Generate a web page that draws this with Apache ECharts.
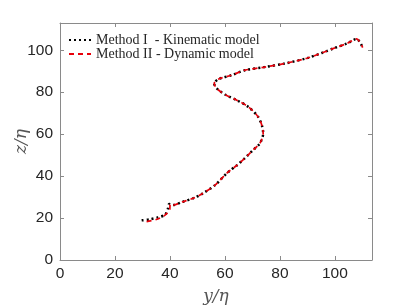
<!DOCTYPE html>
<html>
<head>
<meta charset="utf-8">
<script src="https://cdn.jsdelivr.net/npm/echarts@6/dist/echarts.min.js"></script>
<style>html,body{margin:0;padding:0;background:#fff}#c{width:411px;height:308px}</style>
</head>
<body>
<div id="c"></div>
<script>
const seriesNames = ['Method I  - Kinematic model', 'Method II - Dynamic model'];
const xTicks = [0, 20, 40, 60, 80, 100];
const yTicks = [0, 20, 40, 60, 80, 100];
// Method I (kinematic) trajectory: [y/eta, z/eta]
const kinematic = [
  [29.7,18.9],[32.7,19.4],[35.6,20.3],[38.2,21.6],[39.3,24.6],[39.7,26.7],[41.1,26.2],
  [44.7,27.8],[48.4,29.4],[52.0,31.8],[56.4,35.7],[60.7,41.4],[64.4,45.2],[67.3,48.6],
  [70.2,52.4],[72.7,55.6],[73.9,60.3],[73.6,63.5],[72.1,68.2],[68.5,73.0],[64.3,76.2],
  [60.0,78.9],[57.0,81.8],[56.1,84.1],[57.6,86.2],[62.4,88.1],[67.3,90.5],[74.5,92.0],
  [81.8,93.7],[89.8,96.2],[95.2,98.7],[99.3,100.8],[104.3,103.2],[107.9,105.4],[110.1,101.3]
];
// Method II (dynamic) trajectory
const dynamic = [
  [31.5,18.3],[35.3,19.4],[38.2,21.4],[39.9,24.0],[40.1,26.7],[41.1,26.2],
  [44.7,27.8],[48.4,29.4],[52.0,31.8],[56.4,35.7],[60.7,41.4],[64.4,45.2],[67.3,48.6],
  [70.2,52.4],[72.7,55.6],[73.9,60.3],[73.6,63.5],[72.1,68.2],[68.5,73.0],[64.3,76.2],
  [60.0,78.9],[57.0,81.8],[56.1,84.1],[57.6,86.2],[62.4,88.1],[67.3,90.5],[74.5,92.0],
  [81.8,93.7],[89.8,96.2],[95.2,98.7],[99.3,100.8],[104.3,103.2],[107.9,105.4],[110.1,101.3]
];
const xMax = 113.5, yMax = 113;
const axisColor = '#8a8a8a';
const tickFont = {color:'#262626', fontFamily:'Liberation Sans, Arial, sans-serif', fontSize:15.5};
function mkAxis(pos, isX, show){
  const ticks = isX ? xTicks : yTicks;
  return {
    type:'value', position:pos, min:0, max: isX? xMax : yMax,
    axisLine:{show:true, onZero:false, lineStyle:{color:axisColor, width:1}},
    axisTick:{show:true, inside:true, length:4, customValues:ticks, lineStyle:{color:axisColor}},
    axisLabel: show ? Object.assign({margin: isX?6:7, customValues: ticks}, tickFont) : {show:false},
    splitLine:{show:false}
  };
}
const chart = echarts.init(document.getElementById('c'), null, {renderer:'canvas'});
const xa = mkAxis('bottom', true, true);
xa.name = 'y/η'; xa.nameLocation='middle'; xa.nameGap=28; xa.nameMoveOverlap=false;
xa.nameTextStyle = {fontFamily:'DejaVu Serif, serif', fontStyle:'italic', fontSize:17, color:'#555'};
const xb = mkAxis('top', true, false);
const ya = mkAxis('left', false, true);
ya.name = 'z/η'; ya.nameLocation='middle'; ya.nameGap=30; ya.nameRotate=90; ya.nameMoveOverlap=false;
ya.nameTextStyle = {fontFamily:'DejaVu Serif, serif', fontStyle:'italic', fontSize:17, color:'#555'};
const yb = mkAxis('right', false, false);
chart.setOption({
  animation:false,
  grid:{left:60, right:39, top:23, bottom:48, containLabel:false, outerBoundsMode:'none'},
  xAxis:[xa, xb],
  yAxis:[ya, yb],
  legend:{
    left:63, top:28, orient:'vertical', itemGap:0, itemWidth:22, itemHeight:12,
    itemStyle:{opacity:0},
    textStyle:{fontFamily:'Liberation Serif, serif', fontSize:14, color:'#262626'},
    data: seriesNames
  },
  series:[
    {name:seriesNames[0], type:'line', data:kinematic, xAxisIndex:0, yAxisIndex:0,
     showSymbol:false, symbol:'none', smooth:0.3, z:2, itemStyle:{color:'#000'},
     lineStyle:{color:'#000', width:2.5, type:[2,3], cap:'butt'}},
    {name:seriesNames[1], type:'line', data:dynamic, xAxisIndex:0, yAxisIndex:0,
     showSymbol:false, symbol:'none', smooth:0.3, z:3, itemStyle:{color:'#e8000b'},
     lineStyle:{color:'#e8000b', width:1.7, type:[5,4], cap:'butt'}}
  ]
});
</script>
</body>
</html>
